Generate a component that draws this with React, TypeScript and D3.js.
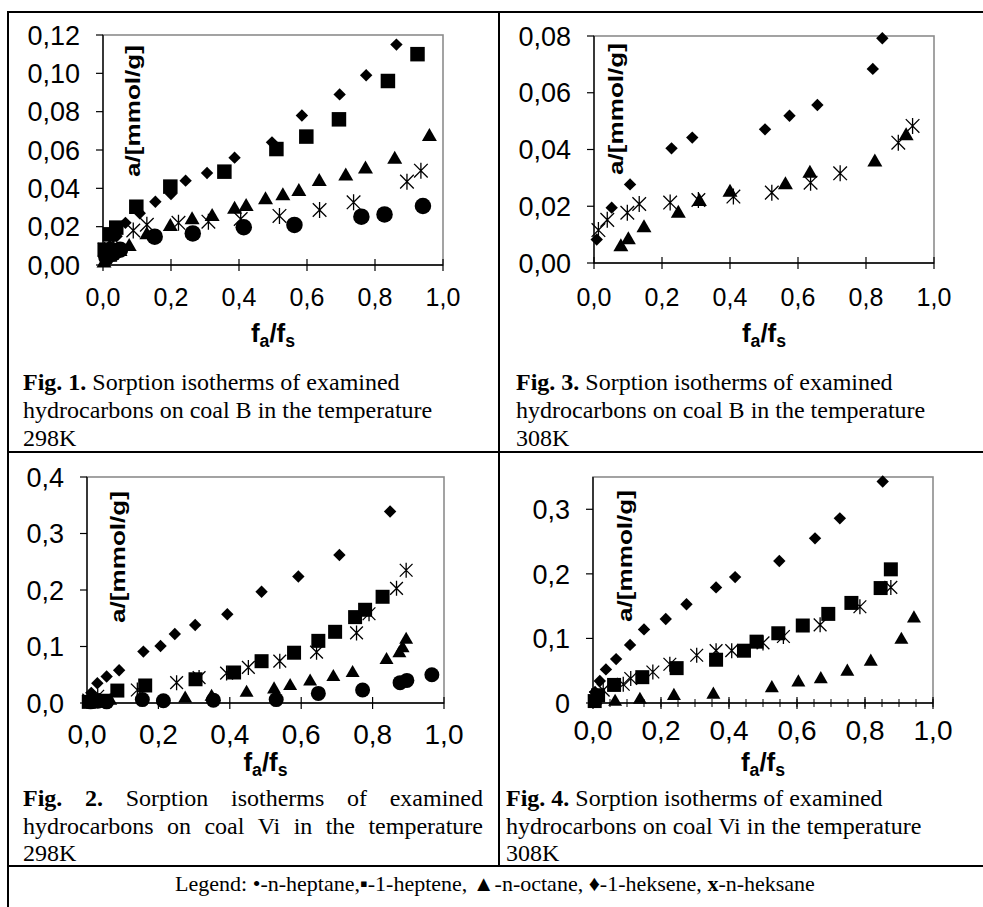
import React from 'react';
import * as d3 from 'd3';

type Pt = [number, number];

// ---- data (x = fa/fs, y = a [mmol/g]) ----

// Fig. 1: coal B, 298K
const b298Heptane: Pt[] = [[0.01, 0.004], [0.03, 0.006], [0.05, 0.008], [0.152, 0.0148], [0.264, 0.0165], [0.414, 0.0197], [0.563, 0.0209], [0.76, 0.0252], [0.828, 0.0264], [0.941, 0.0308]];
const b298Heptene: Pt[] = [[0.005, 0.008], [0.02, 0.016], [0.039, 0.0195], [0.098, 0.0304], [0.198, 0.0409], [0.357, 0.0487], [0.51, 0.0605], [0.598, 0.067], [0.694, 0.076], [0.838, 0.096], [0.925, 0.11]];
const b298Octane: Pt[] = [[0.003, 0.001], [0.02, 0.004], [0.05, 0.007], [0.077, 0.0096], [0.129, 0.0157], [0.198, 0.02], [0.262, 0.0235], [0.321, 0.0252], [0.387, 0.029], [0.421, 0.0304], [0.478, 0.034], [0.529, 0.036], [0.576, 0.0383], [0.636, 0.0435], [0.714, 0.0464], [0.772, 0.05], [0.858, 0.0551], [0.96, 0.067]];
const b298Heksene: Pt[] = [[0.005, 0.005], [0.02, 0.01], [0.04, 0.015], [0.066, 0.022], [0.108, 0.027], [0.154, 0.033], [0.2, 0.037], [0.243, 0.044], [0.306, 0.048], [0.387, 0.056], [0.497, 0.064], [0.585, 0.078], [0.696, 0.089], [0.774, 0.099], [0.863, 0.115]];
const b298Heksane: Pt[] = [[0.005, 0.008], [0.03, 0.012], [0.089, 0.018], [0.129, 0.021], [0.222, 0.022], [0.31, 0.0226], [0.405, 0.024], [0.519, 0.0256], [0.637, 0.0287], [0.737, 0.0327], [0.894, 0.0435], [0.935, 0.0492]];

// Fig. 3: coal B, 308K
const b308Heksene: Pt[] = [[0.008, 0.0083], [0.052, 0.0195], [0.106, 0.0277], [0.228, 0.0404], [0.289, 0.0442], [0.503, 0.0471], [0.575, 0.0519], [0.657, 0.0557], [0.82, 0.0684], [0.848, 0.0792]];
const b308Octane: Pt[] = [[0.079, 0.0057], [0.101, 0.0081], [0.147, 0.0124], [0.248, 0.0175], [0.31, 0.0216], [0.4, 0.0249], [0.563, 0.0275], [0.635, 0.0316], [0.826, 0.0355], [0.918, 0.0448]];
const b308Heksane: Pt[] = [[0.013, 0.0116], [0.039, 0.0152], [0.098, 0.0177], [0.133, 0.0208], [0.224, 0.0213], [0.307, 0.0222], [0.41, 0.0234], [0.523, 0.0248], [0.637, 0.0283], [0.724, 0.0316], [0.895, 0.0424], [0.937, 0.0483]];

// Fig. 2: coal Vi, 298K
const vi298Heptane: Pt[] = [[0.01, 0.002], [0.03, 0.003], [0.055, 0.002], [0.155, 0.006], [0.214, 0.004], [0.354, 0.005], [0.53, 0.006], [0.648, 0.017], [0.772, 0.023], [0.877, 0.036], [0.896, 0.04], [0.966, 0.05]];
const vi298Heptene: Pt[] = [[0.005, 0.002], [0.02, 0.005], [0.045, 0.004], [0.085, 0.022], [0.163, 0.031], [0.304, 0.042], [0.412, 0.054], [0.489, 0.074], [0.58, 0.089], [0.648, 0.11], [0.695, 0.126], [0.751, 0.152], [0.779, 0.165], [0.828, 0.188]];
const vi298Octane: Pt[] = [[0.01, 0.002], [0.035, 0.003], [0.065, 0.004], [0.275, 0.008], [0.349, 0.011], [0.447, 0.018], [0.524, 0.024], [0.569, 0.03], [0.625, 0.038], [0.69, 0.046], [0.744, 0.053], [0.839, 0.076], [0.875, 0.088], [0.884, 0.097], [0.894, 0.112]];
const vi298Heksene: Pt[] = [[0.003, 0.005], [0.012, 0.018], [0.029, 0.035], [0.055, 0.047], [0.09, 0.058], [0.158, 0.091], [0.206, 0.101], [0.246, 0.122], [0.303, 0.138], [0.393, 0.157], [0.489, 0.197], [0.592, 0.224], [0.707, 0.262], [0.849, 0.339]];
const vi298Heksane: Pt[] = [[0.005, 0.005], [0.03, 0.012], [0.141, 0.023], [0.251, 0.036], [0.314, 0.045], [0.391, 0.053], [0.452, 0.063], [0.54, 0.074], [0.643, 0.09], [0.755, 0.124], [0.79, 0.158], [0.867, 0.203], [0.894, 0.235]];

// Fig. 4: coal Vi, 308K
const vi308Heptene: Pt[] = [[0.005, 0.003], [0.015, 0.012], [0.062, 0.028], [0.145, 0.04], [0.246, 0.054], [0.362, 0.067], [0.444, 0.081], [0.481, 0.095], [0.545, 0.108], [0.617, 0.12], [0.692, 0.138], [0.76, 0.155], [0.846, 0.178], [0.876, 0.207]];
const vi308Octane: Pt[] = [[0.065, 0.002], [0.138, 0.005], [0.238, 0.011], [0.354, 0.013], [0.526, 0.023], [0.604, 0.032], [0.67, 0.037], [0.748, 0.0485], [0.817, 0.064], [0.907, 0.098], [0.944, 0.131]];
const vi308Heksene: Pt[] = [[0.006, 0.017], [0.02, 0.034], [0.038, 0.052], [0.068, 0.068], [0.109, 0.09], [0.15, 0.114], [0.214, 0.13], [0.275, 0.153], [0.362, 0.179], [0.418, 0.195], [0.548, 0.22], [0.653, 0.255], [0.726, 0.286], [0.852, 0.343]];
const vi308Heksane: Pt[] = [[0.008, 0.008], [0.03, 0.02], [0.089, 0.029], [0.111, 0.038], [0.176, 0.048], [0.226, 0.06], [0.305, 0.074], [0.362, 0.081], [0.408, 0.081], [0.5, 0.093], [0.56, 0.103], [0.668, 0.121], [0.785, 0.149], [0.876, 0.179]];

// ticks
const X_TICKS = [0, 0.2, 0.4, 0.6, 0.8, 1.0];
const X_LABELS = ['0,0', '0,2', '0,4', '0,6', '0,8', '1,0'];
const Y1_TICKS = [0, 0.02, 0.04, 0.06, 0.08, 0.1, 0.12];
const Y1_LABELS = ['0,00', '0,02', '0,04', '0,06', '0,08', '0,10', '0,12'];
const Y3_TICKS = [0, 0.02, 0.04, 0.06, 0.08];
const Y3_LABELS = ['0,00', '0,02', '0,04', '0,06', '0,08'];
const Y2_TICKS = [0, 0.1, 0.2, 0.3, 0.4];
const Y2_LABELS = ['0,0', '0,1', '0,2', '0,3', '0,4'];
const Y4_TICKS = [0, 0.1, 0.2, 0.3];
const Y4_LABELS = ['0', '0,1', '0,2', '0,3'];

const SANS = '"Liberation Sans", Arial, sans-serif';
const SERIF = '"Liberation Serif", "Times New Roman", serif';

const diamondType = (d3 as any).symbolDiamond2 || d3.symbolDiamond;

// star marker like Excel's: an X with a vertical bar
function starPath(r: number) {
  const a = r * 0.85;
  return `M0,${-r}L0,${r}M${-a},${-a}L${a},${a}M${-a},${a}L${a},${-a}`;
}

function Panel(props: any) {
  const p = props.p;
  const x = d3.scaleLinear().domain([0, 1]).range([p.left, p.right]);
  const y = d3.scaleLinear().domain([0, p.yMax]).range([p.bottom, p.top]);
  const m = p.marker;
  const circle = d3.symbol(d3.symbolCircle, Math.PI * (m.circle / 2) ** 2)()!;
  const square = d3.symbol(d3.symbolSquare, m.square * m.square)()!;
  const tri = d3.symbol(d3.symbolTriangle, (Math.sqrt(3) / 4) * m.tri * m.tri)()!;
  const diam = d3.symbol(diamondType, (m.diamond * m.diamond) / 2)()!;
  const star = starPath(m.star);
  const minor = p.minor ? x.ticks(25) : [];
  const cx = (p.left + p.right) / 2;

  const dots = (data: Pt[], d: string, key: string, stroke?: boolean) =>
    data.map((v, i) => (
      <path key={key + i} d={d} transform={`translate(${x(v[0])},${y(v[1])})`}
        fill={stroke ? 'none' : '#000'} stroke={stroke ? '#000' : 'none'} strokeWidth={stroke ? 1.3 : 0} />
    ));

  return (
    <g>
      <rect x={p.left} y={p.top} width={p.right - p.left} height={p.bottom - p.top}
        fill="#fff" stroke="#8c8c8c" strokeWidth={1.6} />
      <line x1={p.left} x2={p.left} y1={p.top} y2={p.bottom + 0.5} stroke="#000" strokeWidth={1.3} />
      <line x1={p.left} x2={p.right} y1={p.bottom} y2={p.bottom} stroke="#000" strokeWidth={1.3} />
      {p.yTicks.map((v: number, i: number) => (
        <g key={'yt' + i}>
          <line x1={p.left - 7} x2={p.left} y1={y(v)} y2={y(v)} stroke="#000" strokeWidth={1.2} />
          <text x={p.left - 23} y={y(v)} dy="0.36em" textAnchor="end" fontFamily={SANS} fontSize={p.yFont}>{p.yLabels[i]}</text>
        </g>
      ))}
      {minor.map((v: number, i: number) => (
        <line key={'mn' + i} x1={x(v)} x2={x(v)} y1={p.bottom - 4} y2={p.bottom + 4} stroke="#000" strokeWidth={1} />
      ))}
      {X_TICKS.map((v, i) => (
        <g key={'xt' + i}>
          <line x1={x(v)} x2={x(v)} y1={p.bottom - 6} y2={p.bottom + 6} stroke="#000" strokeWidth={1.2} />
          <text x={x(v)} y={p.xLabelY} dy="0.36em" textAnchor="middle" fontFamily={SANS} fontSize={p.xFont}>{X_LABELS[i]}</text>
        </g>
      ))}
      <text transform={`translate(${p.titleX},${p.titleBottom}) rotate(-90)`} fontFamily={SANS} fontWeight="bold"
        fontSize={21} textLength={132} lengthAdjust="spacingAndGlyphs">a/[mmol/g]</text>
      <text x={cx} y={p.xTitleY} textAnchor="middle" fontFamily={SANS} fontWeight="bold" fontSize={p.xTitleFont}>
        f<tspan fontSize={p.xTitleFont * 0.68} dy={5}>a</tspan><tspan dy={-5}>/f</tspan><tspan fontSize={p.xTitleFont * 0.68} dy={5}>s</tspan>
      </text>
      {dots(p.series.heptane, circle, 'c')}
      {dots(p.series.heptene, square, 's')}
      {dots(p.series.octane, tri, 't')}
      {dots(p.series.heksene, diam, 'd')}
      {dots(p.series.heksane, star, 'x', true)}
    </g>
  );
}

let measureCtx: CanvasRenderingContext2D | null = null;
function textWidth(s: string, font: string) {
  if (!measureCtx) measureCtx = document.createElement('canvas').getContext('2d');
  if (!measureCtx) return s.length * 10;
  measureCtx.font = font;
  return measureCtx.measureText(s).width;
}

// a justified caption line: words spread between x0 and x1
function JustifiedLine(props: any) {
  const { words, x0, x1, y } = props;
  const widths = words.map((w: any) => textWidth(w.t, `${w.b ? 'bold ' : ''}24px "Liberation Serif"`));
  const gap = (x1 - x0 - d3.sum(widths)) / (words.length - 1);
  let cur = x0;
  return (
    <g>
      {words.map((w: any, i: number) => {
        const xx = cur;
        cur += widths[i] + gap;
        return <text key={i} x={xx} y={y} fontFamily={SERIF} fontSize={24} fontWeight={w.b ? 'bold' : 'normal'}>{w.t}</text>;
      })}
    </g>
  );
}

function Caption(props: any) {
  const { x, ys, num, coal, temp } = props;
  return (
    <g fontFamily={SERIF} fontSize={24}>
      <text x={x} y={ys[0]}><tspan fontWeight="bold">Fig. {num}.</tspan> Sorption isotherms of examined</text>
      <text x={x} y={ys[1]}>hydrocarbons on coal {coal} in the temperature</text>
      <text x={x} y={ys[2]}>{temp}</text>
    </g>
  );
}

const topMarker = { circle: 16.5, square: 14.5, tri: 15, diamond: 14, star: 8 };
const botMarker = { circle: 15, square: 14, tri: 14, diamond: 14, star: 7.5 };

const panels = [
  {
    left: 103, right: 443, top: 35, bottom: 265, yMax: 0.12, yTicks: Y1_TICKS, yLabels: Y1_LABELS,
    yFont: 27, xFont: 25, xLabelY: 297, xTitleY: 342, xTitleFont: 26, titleX: 140, titleBottom: 177, marker: topMarker,
    series: { heptane: b298Heptane, heptene: b298Heptene, octane: b298Octane, heksene: b298Heksene, heksane: b298Heksane },
  },
  {
    left: 594, right: 934, top: 36, bottom: 263, yMax: 0.08, yTicks: Y3_TICKS, yLabels: Y3_LABELS,
    yFont: 27, xFont: 25, xLabelY: 297, xTitleY: 342, xTitleFont: 26, titleX: 623, titleBottom: 175, marker: topMarker,
    series: { heptane: [], heptene: [], octane: b308Octane, heksene: b308Heksene, heksane: b308Heksane },
  },
  {
    left: 87, right: 444, top: 477, bottom: 703, yMax: 0.4, yTicks: Y2_TICKS, yLabels: Y2_LABELS,
    yFont: 27, xFont: 28, xLabelY: 734, xTitleY: 771, xTitleFont: 26, titleX: 125, titleBottom: 623, marker: botMarker,
    series: { heptane: vi298Heptane, heptene: vi298Heptene, octane: vi298Octane, heksene: vi298Heksene, heksane: vi298Heksane },
  },
  {
    left: 593, right: 933, top: 477, bottom: 703, yMax: 0.35, yTicks: Y4_TICKS, yLabels: Y4_LABELS, minor: true,
    yFont: 27, xFont: 28, xLabelY: 730, xTitleY: 771, xTitleFont: 26, titleX: 632, titleBottom: 622, marker: botMarker,
    series: { heptane: [], heptene: vi308Heptene, octane: vi308Octane, heksene: vi308Heksene, heksane: vi308Heksane },
  },
];

const fig2Line1 = [
  { t: 'Fig.', b: true }, { t: '2.', b: true }, { t: 'Sorption' }, { t: 'isotherms' }, { t: 'of' }, { t: 'examined' },
];
const fig2Line2 = ['hydrocarbons', 'on', 'coal', 'Vi', 'in', 'the', 'temperature'].map((t) => ({ t }));

export default function App() {
  const W = 983, H = 907;
  return (
    <svg width={W} height={H} style={{ position: 'absolute', left: 0, top: 0, background: '#fff' }}>
      <rect x={0} y={0} width={W} height={H} fill="#fff" />
      {panels.map((p, i) => <Panel key={i} p={p} />)}

      <Caption x={23} ys={[390, 418, 446]} num={1} coal="B" temp="298K" />
      <Caption x={516} ys={[390, 418, 446]} num={3} coal="B" temp="308K" />
      <JustifiedLine words={fig2Line1} x0={23} x1={483} y={806} />
      <JustifiedLine words={fig2Line2} x0={23} x1={483} y={834} />
      <text x={23} y={861} fontFamily={SERIF} fontSize={24}>298K</text>
      <Caption x={506} ys={[806, 834, 861]} num={4} coal="Vi" temp="308K" />

      <text x={495} y={891} textAnchor="middle" fontFamily={SERIF} fontSize={22}>
        Legend: •-n-heptane,▪-1-heptene, ▲-n-octane, ♦-1-heksene, <tspan fontWeight="bold">x</tspan>-n-heksane
      </text>

      {/* table rules */}
      <g stroke="#000" strokeWidth={2}>
        <line x1={7} x2={W} y1={12} y2={12} />
        <line x1={8} x2={8} y1={11} y2={H} />
        <line x1={499} x2={499} y1={12} y2={866} />
        <line x1={8} x2={W} y1={452} y2={452} />
        <line x1={8} x2={W} y1={866} y2={866} />
      </g>
    </svg>
  );
}
